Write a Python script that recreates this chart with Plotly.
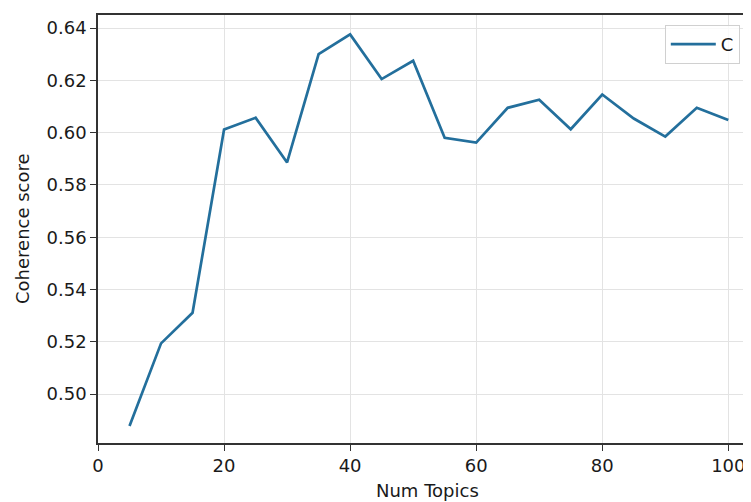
import plotly.graph_objects as go

num_topics = [5, 10, 15, 20, 25, 30, 35, 40, 45, 50, 55, 60, 65, 70, 75, 80, 85, 90, 95, 100]
coherence = [0.4878, 0.5194, 0.5311, 0.6012, 0.6057, 0.5886, 0.6300, 0.6376, 0.6205, 0.6275,
             0.5980, 0.5962, 0.6095, 0.6126, 0.6013, 0.6146, 0.6054, 0.5985, 0.6095, 0.6048]
x_ticks = [0, 20, 40, 60, 80, 100]
y_ticks = [0.50, 0.52, 0.54, 0.56, 0.58, 0.60, 0.62, 0.64]
series_name = "C"

FONT = "DejaVu Sans"
TXT = "#1a1a1a"
FS = 18

# page body has an 8px default margin; compensate so the figure lands where the reference does
fig = go.Figure()
fig.add_trace(go.Scatter(x=num_topics, y=coherence, mode="lines", name=series_name,
                         line=dict(color="#236f9c", width=2.7)))

fig.update_layout(
    width=743, height=494,
    margin=dict(l=90, r=0, t=7, b=59),
    paper_bgcolor="white", plot_bgcolor="white",
    font=dict(family=FONT, size=FS, color=TXT),
    showlegend=True,
    legend=dict(x=0.868, y=0.977, xanchor="left", yanchor="top", itemwidth=45,
                bordercolor="#d0d0d0", borderwidth=1, bgcolor="rgba(255,255,255,0.8)",
                font=dict(family=FONT, size=FS, color=TXT)),
    annotations=[
        dict(text="Num Topics", xref="paper", yref="paper", x=0.5, xshift=3, y=0, yshift=-47,
             xanchor="center", yanchor="middle", showarrow=False,
             font=dict(family=FONT, size=FS, color=TXT)),
        dict(text="Coherence score", xref="paper", yref="paper", x=0, xshift=-76, y=0.5,
             textangle=-90, xanchor="center", yanchor="middle", showarrow=False,
             font=dict(family=FONT, size=FS, color=TXT)),
    ],
)
fig.update_xaxes(range=[0, 103.6], tickvals=x_ticks, ticktext=[str(v) for v in x_ticks],
                 showgrid=True, gridcolor="#e3e3e3", gridwidth=1, zeroline=False,
                 showline=True, linecolor="#333333", linewidth=1.5, mirror=True,
                 ticks="outside", ticklen=6, tickcolor="#333333", tickwidth=1.3,
                 tickfont=dict(family=FONT, size=FS, color=TXT))
fig.update_yaxes(range=[0.4813, 0.6450], tickvals=y_ticks, ticktext=[f"{v:.2f}" for v in y_ticks],
                 showgrid=True, gridcolor="#e3e3e3", gridwidth=1, zeroline=False,
                 showline=True, linecolor="#333333", linewidth=1.5,
                 ticks="outside", ticklen=6, tickcolor="#333333", tickwidth=1.3,
                 tickfont=dict(family=FONT, size=FS, color=TXT))

fig.write_html("out.html")
